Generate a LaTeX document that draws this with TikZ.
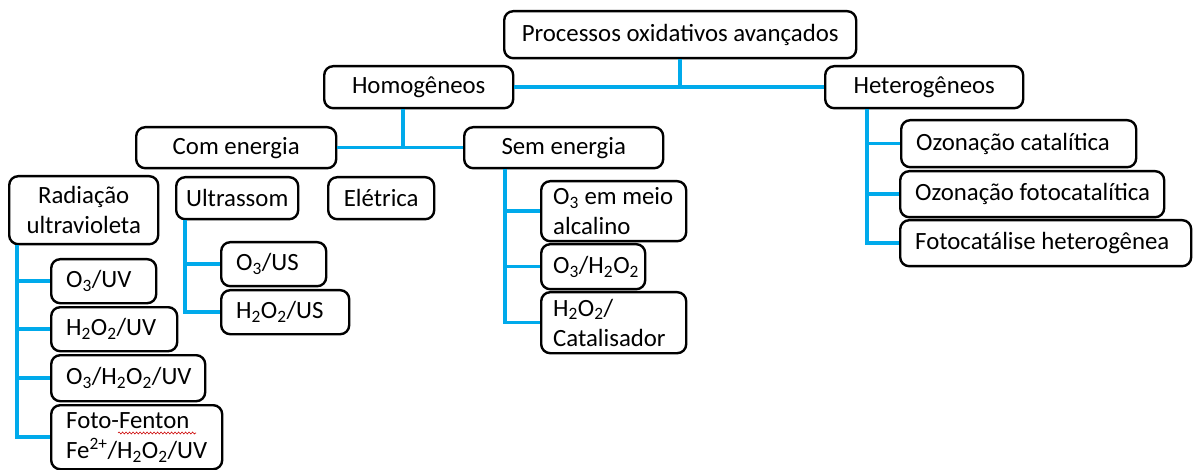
\documentclass[tikz,border=0pt]{standalone}
\usepackage{fontspec}
\setmainfont{Carlito}
\usetikzlibrary{decorations.pathmorphing}
\definecolor{conblue}{RGB}{0,170,235}
\newcommand\oneline[1]{\mbox{#1}}
\tikzset{
  boxc/.style={draw=black, line width=2.4pt, rounded corners=9pt, fill=white, anchor=north west, align=center, inner sep=0pt},
  boxl/.style={draw=black, line width=2.4pt, rounded corners=9pt, fill=white, anchor=north west, align=flush left, inner xsep=15pt, inner ysep=0pt},
  conn/.style={draw=conblue, line width=3.5pt},
}
\begin{document}
\begin{tikzpicture}[x=1pt, y=-1pt, font=\fontsize{24.8}{30}\selectfont]
\useasboundingbox (0,0) rectangle (1199,470);
% connector columns
\coordinate (tv) at (680,0);
\coordinate (hv) at (403,0);
\coordinate (rv) at (17,0);
\coordinate (uv) at (185,0);
\coordinate (sv) at (505,0);
\coordinate (ev) at (867,0);
% boxes
\node[boxc, minimum width=352pt, minimum height=47pt] (top) at (503,10) {Processos oxidativos avançados};
\node[boxc, minimum width=189pt, minimum height=42pt] (homo) at (323,65) {Homogêneos};
\node[boxc, minimum width=198pt, minimum height=42pt] (het) at (824,65) {Heterogêneos};
\node[boxc, minimum width=200pt, minimum height=41pt] (com) at (135,126) {Com energia};
\node[boxc, minimum width=199pt, minimum height=41pt] (sem) at (463,126) {Sem energia};
\node[boxc, minimum width=149pt, minimum height=68pt] (rad) at (8,175) {Radiação\\ultravioleta};
\node[boxc, minimum width=122pt, minimum height=42pt] (ult) at (175,176) {Ultrassom};
\node[boxc, minimum width=106pt, minimum height=42pt] (ele) at (327,176) {Elétrica};
\node[boxl, text width=75pt, minimum height=44pt] (o3uv) at (50,258) {\oneline{O\textsubscript{3}/UV}};
\node[boxl, text width=96pt, minimum height=44pt] (h2uv) at (50,306) {\oneline{H\textsubscript{2}O\textsubscript{2}/UV}};
\node[boxl, text width=124pt, minimum height=46pt] (o3h2uv) at (50,354) {\oneline{O\textsubscript{3}/H\textsubscript{2}O\textsubscript{2}/UV}};
\node[boxl, text width=141pt, minimum height=64pt] (fen) at (50,404) {\oneline{Foto-Fenton}\\\oneline{Fe\textsuperscript{2+}/H\textsubscript{2}O\textsubscript{2}/UV}};
\node[boxl, text width=75pt, minimum height=44pt] (o3us) at (220,241) {\oneline{O\textsubscript{3}/US}};
\node[boxl, text width=98pt, minimum height=44pt] (h2us) at (220,289) {\oneline{H\textsubscript{2}O\textsubscript{2}/US}};
\node[boxl, text width=121pt, minimum height=60pt, inner xsep=12pt] (alc) at (540,180) {\oneline{O\textsubscript{3} em meio}\\\oneline{alcalino}};
\node[boxl, text width=80pt, minimum height=45pt, inner xsep=12pt] (o3h2) at (540,243) {\oneline{O\textsubscript{3}/H\textsubscript{2}O\textsubscript{2}}};
\node[boxl, text width=121pt, minimum height=61pt, inner xsep=12pt] (cat) at (540,291) {\oneline{H\textsubscript{2}O\textsubscript{2}/}\\\oneline{Catalisador}};
\node[boxl, text width=205pt, minimum height=47pt] (ozc) at (900,119) {\oneline{Ozonação catalítica}};
\node[boxl, text width=234pt, minimum height=46pt] (ozf) at (899,170) {\oneline{Ozonação fotocatalítica}};
\node[boxl, text width=261pt, minimum height=46pt] (fot) at (899,219) {\oneline{Fotocatálise heterogênea}};
% connectors
\draw[conn] (top.south -| tv) -- (tv |- homo.east);
\draw[conn] (homo.east) -- (het.west);
\draw[conn] (homo.south -| hv) -- (hv |- com.east);
\draw[conn] (com.east) -- (sem.west);
\draw[conn] (rad.south -| rv) |- (fen.west);
\draw[conn] (rv |- o3uv.west) -- (o3uv.west);
\draw[conn] (rv |- h2uv.west) -- (h2uv.west);
\draw[conn] (rv |- o3h2uv.west) -- (o3h2uv.west);
\draw[conn] (ult.south -| uv) |- (h2us.west);
\draw[conn] (uv |- o3us.west) -- (o3us.west);
\draw[conn] (sem.south -| sv) |- (cat.west);
\draw[conn] (sv |- alc.west) -- (alc.west);
\draw[conn] (sv |- o3h2.west) -- (o3h2.west);
\draw[conn] (het.south -| ev) |- (fot.west);
\draw[conn] (ev |- ozc.west) -- (ozc.west);
\draw[conn] (ev |- ozf.west) -- (ozf.west);
% spell-check squiggle
\coordinate (sq1) at (118,433);
\coordinate (sq2) at (196,433);
\draw[red!80!black, line width=0.6pt, decorate, decoration={snake, amplitude=1pt, segment length=3.5pt}] (sq1) -- (sq2);
\end{tikzpicture}
\end{document}
